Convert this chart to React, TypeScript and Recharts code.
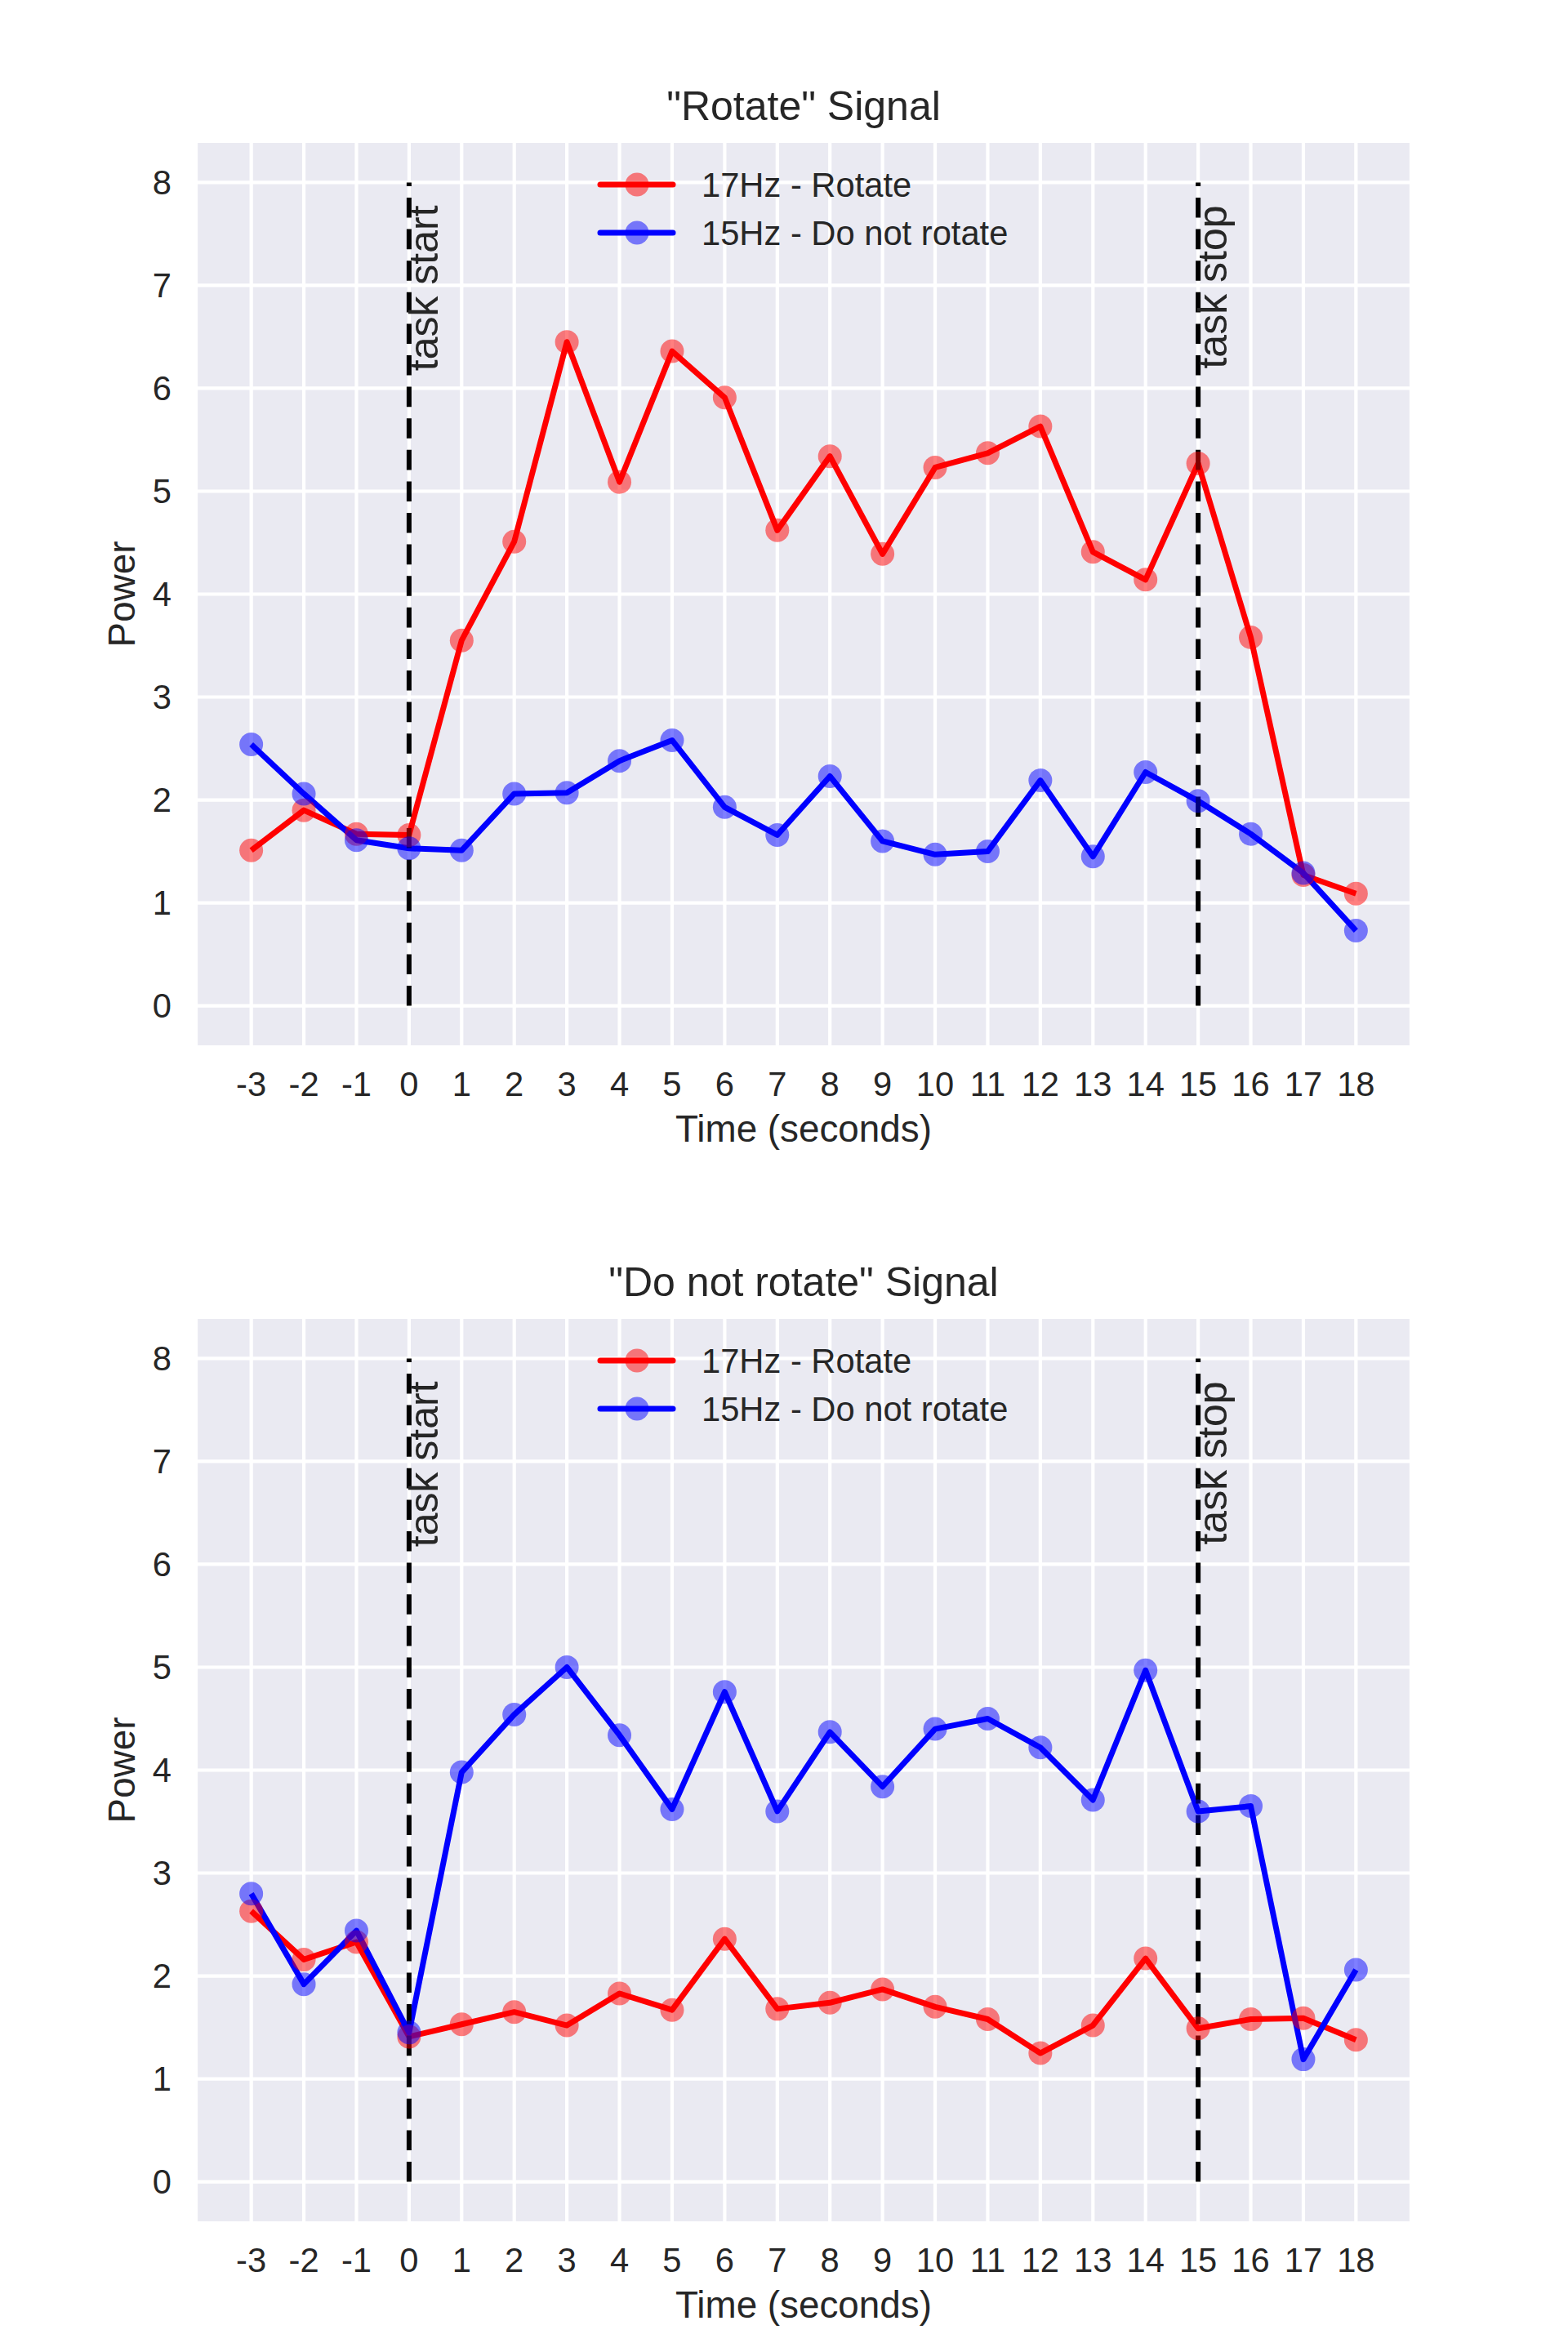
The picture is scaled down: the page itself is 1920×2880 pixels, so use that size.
import React from "react";
import { CartesianGrid, Legend, Line, LineChart, ReferenceLine, XAxis, YAxis } from "recharts";

// seconds relative to task start
const times = [-3, -2, -1, 0, 1, 2, 3, 4, 5, 6, 7, 8, 9, 10, 11, 12, 13, 14, 15, 16, 17, 18];

// "Rotate" signal recording
const rotateHz17 = [1.51, 1.9, 1.67, 1.66, 3.55, 4.51, 6.45, 5.09, 6.36, 5.91, 4.62, 5.34, 4.39, 5.23, 5.37, 5.63, 4.41, 4.14, 5.27, 3.58, 1.27, 1.09];
const rotateHz15 = [2.54, 2.06, 1.61, 1.53, 1.51, 2.06, 2.07, 2.38, 2.58, 1.93, 1.66, 2.23, 1.6, 1.47, 1.5, 2.19, 1.45, 2.27, 1.99, 1.67, 1.29, 0.73];

// "Do not rotate" signal recording
const noRotateHz17 = [2.63, 2.16, 2.33, 1.41, 1.53, 1.65, 1.52, 1.83, 1.67, 2.36, 1.68, 1.74, 1.87, 1.7, 1.58, 1.25, 1.52, 2.17, 1.49, 1.58, 1.59, 1.38];
const noRotateHz15 = [2.8, 1.92, 2.44, 1.45, 3.98, 4.54, 5.0, 4.34, 3.62, 4.76, 3.6, 4.37, 3.84, 4.4, 4.5, 4.22, 3.71, 4.97, 3.6, 3.65, 1.19, 2.06];

const seriesNames = ["17Hz - Rotate", "15Hz - Do not rotate"];
const powerTicks = [0, 1, 2, 3, 4, 5, 6, 7, 8];
const taskStart = 0;
const taskStop = 15;

const FONT = '"Liberation Sans", Arial, sans-serif';
const INK = "#262626";

const buildRows = (hz17: number[], hz15: number[]) =>
  times.map((t, i) => ({ t, hz17: hz17[i], hz15: hz15[i] }));

const renderLegend = (props: any) => {
  // keep plotting order, recharts sorts by name otherwise
  const items = [...(props.payload ?? [])].sort(
    (a: any, b: any) => seriesNames.indexOf(a.value) - seriesNames.indexOf(b.value)
  );
  return (
    <svg width={540} height={120}>
      {items.map((entry: any, i: number) => {
        const cy = 36 + i * 59;
        return (
          <g key={entry.value}>
            <line x1={15} x2={104} y1={cy} y2={cy} stroke={entry.color} strokeWidth={7} strokeLinecap="round" />
            <circle cx={60} cy={cy} r={14.5} fill={entry.color} fillOpacity={0.5} />
            <text x={139} y={cy + 15} fontFamily={FONT} fontSize={41.7} fill={INK}>
              {entry.value}
            </text>
          </g>
        );
      })}
    </svg>
  );
};

const markerLabel = (text: string) => (props: any) => {
  const vb = props.viewBox;
  const x = vb.x + 35;
  const y = vb.y + 28;
  return (
    <text x={x} y={y} transform={`rotate(-90 ${x} ${y})`} textAnchor="end" fontFamily={FONT} fontSize={50} fill={INK}>
      {text}
    </text>
  );
};

const yLabel = (props: any) => {
  const vb = props.viewBox;
  const x = vb.x + 165;
  const y = vb.y + vb.height / 2;
  return (
    <text x={x} y={y} transform={`rotate(-90 ${x} ${y})`} textAnchor="middle" fontFamily={FONT} fontSize={45.8} fill={INK}>
      Power
    </text>
  );
};

const xLabel = (props: any) => {
  const vb = props.viewBox;
  return (
    <text x={vb.x + vb.width / 2} y={vb.y + 116} textAnchor="middle" fontFamily={FONT} fontSize={45.8} fill={INK}>
      Time (seconds)
    </text>
  );
};

function SignalChart({ title, hz17, hz15 }: { title: string; hz17: number[]; hz15: number[] }) {
  const data = buildRows(hz17, hz15);
  const tick = { fill: INK, fontSize: 41.7, fontFamily: FONT };
  return (
    <div style={{ position: "relative", width: 1920, height: 1440 }}>
      <LineChart width={1920} height={1440} data={data} margin={{ top: 173, right: 192, bottom: 0, left: 0 }}>
        <CartesianGrid fill="#EAEAF2" stroke="#ffffff" strokeWidth={4.2} />
        <XAxis
          dataKey="t"
          type="number"
          domain={[-4.05, 19.05]}
          allowDataOverflow
          ticks={times}
          interval={0}
          height={158}
          axisLine={false}
          tickLine={false}
          tickSize={0}
          tickMargin={30}
          tick={tick}
          label={xLabel}
        />
        <YAxis
          type="number"
          domain={[-0.4, 8.4]}
          allowDataOverflow
          ticks={powerTicks}
          interval={0}
          width={240}
          axisLine={false}
          tickLine={false}
          tickSize={0}
          tickMargin={30}
          tick={tick}
          label={yLabel}
        />
        <Legend
          layout="vertical"
          align="center"
          verticalAlign="middle"
          content={renderLegend}
          wrapperStyle={{ position: "absolute", left: 720, top: 190, width: 540, height: 120, margin: 0 }}
        />
        <Line
          type="linear"
          dataKey="hz17"
          name={seriesNames[0]}
          stroke="#ff0000"
          strokeWidth={7}
          strokeLinejoin="round"
          dot={{ r: 14.5, fill: "#ff0000", fillOpacity: 0.5, stroke: "none" }}
          activeDot={false}
          isAnimationActive={false}
        />
        <Line
          type="linear"
          dataKey="hz15"
          name={seriesNames[1]}
          stroke="#0000ff"
          strokeWidth={7}
          strokeLinejoin="round"
          dot={{ r: 14.5, fill: "#0000ff", fillOpacity: 0.5, stroke: "none" }}
          activeDot={false}
          isAnimationActive={false}
        />
        <ReferenceLine
          segment={[{ x: taskStart, y: 0 }, { x: taskStart, y: 8 }]}
          stroke="#000000"
          strokeWidth={6}
          strokeDasharray="24.6 14"
          label={markerLabel("task start")}
        />
        <ReferenceLine
          segment={[{ x: taskStop, y: 0 }, { x: taskStop, y: 8 }]}
          stroke="#000000"
          strokeWidth={6}
          strokeDasharray="24.6 14"
          label={markerLabel("task stop")}
        />
      </LineChart>
      <svg width={1920} height={200} style={{ position: "absolute", left: 0, top: 0, pointerEvents: "none" }}>
        <text x={984} y={147} textAnchor="middle" fontFamily={FONT} fontSize={50} fill={INK}>
          {title}
        </text>
      </svg>
    </div>
  );
}

export default function App() {
  return (
    <div style={{ width: 1920, height: 2880, background: "#ffffff" }}>
      <style>{"body{margin:0}"}</style>
      <SignalChart title={'"Rotate" Signal'} hz17={rotateHz17} hz15={rotateHz15} />
      <SignalChart title={'"Do not rotate" Signal'} hz17={noRotateHz17} hz15={noRotateHz15} />
    </div>
  );
}
